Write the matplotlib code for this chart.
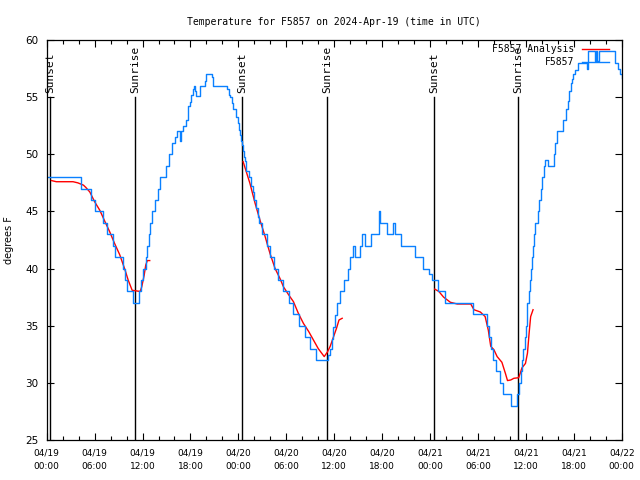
import matplotlib
matplotlib.use('Agg')
import matplotlib.pyplot as plt
import numpy as np

# hours since 2024-04-19 00:00 UTC
obs_hours = [0.1, 4.3, 5.6, 6.1, 7.1, 7.5, 8.3, 8.6, 9.5, 9.8, 10.1, 10.8, 11.5, 11.8,
             12.1, 12.4, 12.6, 12.75, 12.9, 13.2, 13.5, 13.9, 14.15, 15.0, 15.3, 15.75,
             16.1, 16.35, 16.65, 16.8, 17.05, 17.5, 17.65, 17.9, 18.1, 18.3, 18.4, 18.55,
             18.75, 19.25, 19.8, 19.95, 20.75, 20.85, 22.6, 22.8, 22.95, 23.15, 23.3,
             23.75, 23.9, 24.05, 24.15, 24.3, 24.45, 24.6, 24.75, 24.85, 25.0, 25.3,
             25.55, 25.8, 26.0, 26.2, 26.5, 26.6, 27.0, 27.6, 28.0, 28.4, 29.0, 29.65,
             30.3, 30.9, 31.6, 32.4, 33.0, 33.75, 35.25, 35.5, 35.7, 35.9, 36.1, 36.3,
             36.75, 37.2, 37.7, 38.0, 38.3, 38.55, 39.25, 39.5, 39.8, 40.6, 41.6, 41.75,
             42.6, 43.4, 43.6, 44.4, 46.1, 47.1, 47.9, 48.2, 49.05, 49.9, 53.4, 55.1,
             55.35, 55.6, 55.9, 56.3, 56.7, 57.1, 58.2, 58.95, 59.2, 59.35, 59.5, 59.65,
             59.85, 60.0, 60.1, 60.2, 60.35, 60.5, 60.6, 60.75, 60.9, 61.05, 61.2, 61.55,
             61.7, 61.85, 62.05, 62.25, 62.45, 62.75, 63.55, 63.7, 63.85, 64.65, 65.05,
             65.25, 65.45, 65.6, 65.75, 65.95, 66.2, 66.5, 67.6, 67.75, 68.6, 68.75,
             68.95, 69.1, 71.1, 71.5, 71.8, 72.0]
obs_temps = [48, 47, 46, 45, 44, 43, 42, 41, 40, 39, 38, 37, 38, 39,
             40, 41, 42, 43, 44, 45, 46, 47, 48, 49, 50, 51,
             51.5, 52, 51.2, 52, 52.5, 53, 54.2, 54.6, 55.2, 55.7, 56, 55.5,
             55.1, 56, 56.4, 57, 56.8, 56, 55.7, 55.2, 55, 54.5, 54,
             53.3, 52.7, 52.1, 51.7, 51.2, 50.8, 50.3, 49.8, 49.4, 48.5, 48,
             47.2, 46.7, 46, 45.3, 44.5, 44, 43, 42, 41, 40, 39, 38,
             37, 36, 35, 34, 33, 32, 32.4, 33, 33.8, 34.9, 35.9, 37,
             38, 39, 40, 41, 42, 41, 42, 43, 42, 43, 45, 44,
             43, 44, 43, 42, 41, 40, 39.5, 39, 38, 37, 36, 35,
             34, 33, 32, 31, 30, 29, 28, 29, 30, 31, 32, 33,
             34, 35, 36, 37, 38, 39, 40, 41, 42, 43, 44, 45,
             46, 47, 48, 49, 49.5, 49, 50, 51, 52, 53, 54,
             54.7, 55.5, 56.2, 56.6, 57, 57.4, 58, 57.5, 59, 58.2, 59,
             58.2, 59, 58, 57.5, 57, 56.7]

# analysis segments, NaN separates the nights
ana_hours = [0.6, 1.2, 3.3, 3.9, 4.6, 4.9, 5.4, 6.0, 6.65, 7.3, 7.9, 8.5, 9.15, 9.8,
             10.2, 10.7, 11.7, 11.9, 12.2, 12.4, 12.6, 12.9, np.nan,
             24.6, 25.45, 26.1, 26.7, 27.35, 27.97, 28.6, 29.2, 29.65, 30.3, 30.9, 31.5,
             32.15, 32.8, 33.4, 34.0, 34.75, 35.15, 35.5, 35.9, 36.3, 36.6, 37.0, np.nan,
             48.6, 49.1, 49.7, 50.55, 51.4, 53.1, 53.5, 54.3, 54.9, 55.3, 55.6, 56.0,
             56.4, 57.0, 57.45, 57.7, 58.1, 58.5, 59.1, 59.3, 59.5, 59.95, 60.2, 60.4,
             60.6, 60.9]
ana_temps = [47.7, 47.6, 47.6, 47.5, 47.3, 47.1, 46.7, 45.85, 45.1, 44.1, 43.2, 42.2, 41.2, 39.9,
             39.0, 38.1, 38.0, 38.4, 39.4, 40.3, 40.7, 40.7, np.nan,
             49.35, 47.45, 45.7, 44.25, 42.8, 41.3, 40.0, 39.15, 38.4, 37.7, 37.1, 36.1,
             35.2, 34.5, 33.75, 33.0, 32.3, 32.7, 33.2, 34.0, 34.8, 35.5, 35.65, np.nan,
             38.2, 38.0, 37.5, 37.05, 36.9, 36.9, 36.4, 36.2, 35.8, 34.6, 33.2, 32.9,
             32.3, 31.8, 30.8, 30.2, 30.25, 30.4, 30.45, 30.85, 31.3, 31.7, 32.6, 34.3,
             35.8, 36.4]

sun_hours = [0.42, 11.1, 24.5, 35.1, 48.52, 59.05]
sun_labels = ['Sunset', 'Sunrise', 'Sunset', 'Sunrise', 'Sunset', 'Sunrise']

tick_hours = list(range(0, 73, 6))
tick_labels = ['04/19\n00:00', '04/19\n06:00', '04/19\n12:00', '04/19\n18:00',
               '04/20\n00:00', '04/20\n06:00', '04/20\n12:00', '04/20\n18:00',
               '04/21\n00:00', '04/21\n06:00', '04/21\n12:00', '04/21\n18:00',
               '04/22\n00:00']

mono = 'DejaVu Sans Mono'

fig = plt.figure(figsize=(6.4, 4.8), dpi=100)
ax = fig.add_axes([46.7 / 640, 40 / 480, 575 / 640, 400 / 480])

for h, lab in zip(sun_hours, sun_labels):
    ax.plot([h, h], [25, 55], color='black', lw=1.0)
    ax.text(h, 55.35, lab, rotation=90, ha='center', va='bottom',
            family=mono, fontsize=8)

ax.plot(ana_hours, ana_temps, color='#ff0000', lw=1.0, label='F5857 Analysis')
ax.plot(obs_hours, obs_temps, color='#0a80ff', lw=1.0, drawstyle='steps-post',
        label='F5857')

ax.set_xlim(0, 72)
ax.set_ylim(25, 60)
ax.set_xticks(tick_hours)
ax.set_xticklabels(tick_labels, fontsize=6.5, linespacing=1.6)
ax.set_xticks(range(0, 73, 2), minor=True)
ax.set_yticks(range(25, 61, 5))
ax.tick_params(axis='y', labelsize=7.5)
ax.tick_params(which='both', direction='in', top=True, right=True, width=0.8)
ax.tick_params(which='major', length=5, pad=6)
ax.tick_params(which='minor', length=3)
for s in ax.spines.values():
    s.set_linewidth(0.9)

# title is centred over the plot area, not the whole figure
ax.set_title('Temperature for F5857 on 2024-Apr-19 (time in UTC)',
             family=mono, fontsize=7, pad=11)
fig.text(9 / 640, 0.5, 'degrees F', rotation=90, ha='center', va='center', fontsize=7)

ax.legend(loc='upper right', bbox_to_anchor=(0.978, 0.99), frameon=False,
          markerfirst=False, prop={'family': mono, 'size': 7}, handlelength=2.8,
          handletextpad=0.8, labelspacing=0.35, borderaxespad=0, borderpad=0)

fig.savefig('out.png', dpi=100)
